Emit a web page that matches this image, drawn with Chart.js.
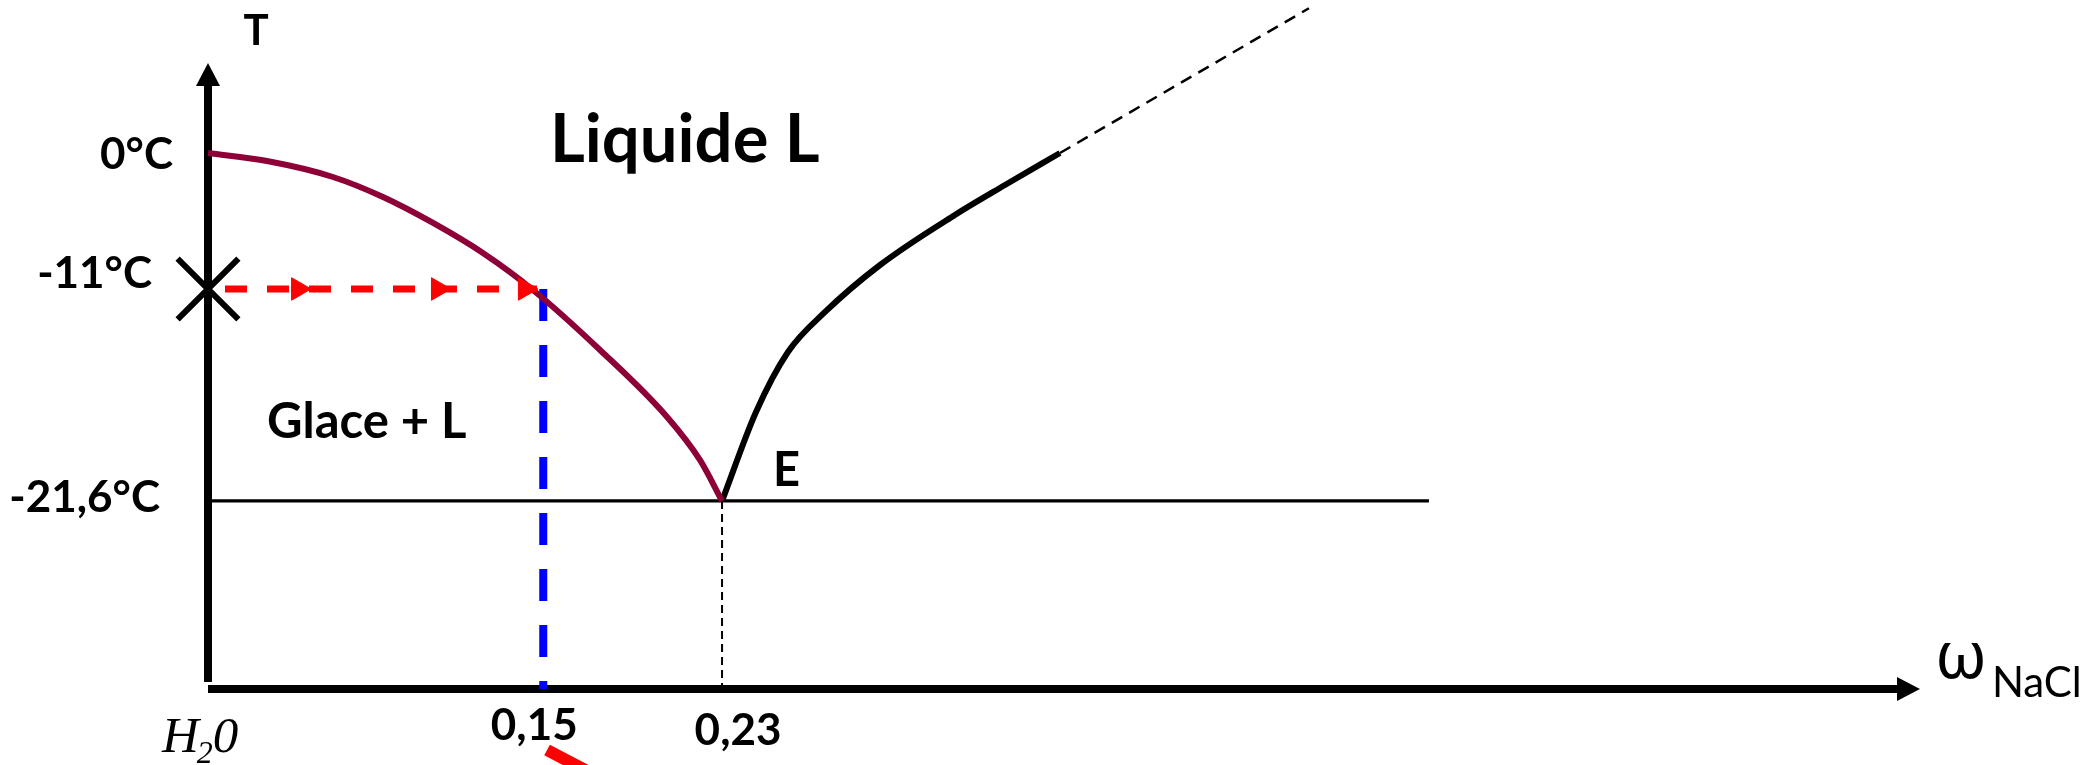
<!DOCTYPE html>
<html>
<head>
<meta charset="utf-8">
<title>Diagramme binaire eau – NaCl</title>
<script src="https://cdn.jsdelivr.net/npm/chart.js@4.4.1/dist/chart.umd.min.js"></script>
<style>
  html, body { margin: 0; padding: 0; background: #ffffff; overflow: hidden; }
  canvas { display: block; }
</style>
</head>
<body>
<canvas id="diagram" width="2097" height="765"></canvas>
<script>
// ---- Data: mass fraction of NaCl (ω) and temperature (°C) ----

// Ice liquidus, from pure water at 0 °C down to the eutectic point
const iceLiquidusW = [0, 0.0264, 0.0559, 0.0783, 0.1007, 0.1230, 0.1454, 0.1754, 0.2054, 0.2201, 0.23];
const iceLiquidusT = [0, -0.65, -1.94, -3.56, -5.66, -8.09, -11.05, -14.05, -17.4, -19.55, -21.6];

// Salt-side liquidus, from the eutectic point up to 0 °C
const saltLiquidusW = [0.23, 0.2452, 0.2595, 0.2761, 0.3007, 0.3342, 0.3566, 0.3812];
const saltLiquidusT = [-21.6, -17.15, -14.15, -12.15, -9.06, -5.01, -2.59, 0];

// Dashed continuation of the salt liquidus above 0 °C
const saltExtensionW = [0.3812, 0.4926];
const saltExtensionT = [0, 11.73];

// Eutectic plateau and its composition
const eutecticT = -21.6;
const eutecticW = 0.23;
const eutecticLineEndW = 0.5463;

// Cooling path of the brine: start temperature and the composition reached
const startT = -11;
const brineW = 0.15;
const coolingPathW = [0.0076, 0.1472];
const coolingArrowW = [0.0403, 0.1029, 0.1418];

// Tail of a red arrow below the composition axis
const pointerW = [0.1517, 0.1799];
const pointerT = [-34.05, -35.7];

// Axis extents and labels
const tempMin = -31;
const tempMax = 12.4;
const tempAxisTipT = 7.3;
const fracAxisTipW = 0.766;
const fracMax = 0.8452;
const tempTicks = [0, -11, -21.6];
const tempTickLabels = ['0°C', '-11°C', '-21,6°C'];
const fracTicks = [0.15, 0.23];
const fracTickLabels = ['0,15', '0,23'];

// The temperature axis is a schematic one: each labelled level has its own spacing
const tempBreaks = [-31, -21.6, -11, 0, 12.4];
const tempBreakSpan = [0, 0.2729, 0.5806, 0.7779, 1];

// ---- Piecewise-linear value axis ----
class BrokenLinearScale extends Chart.LinearScale {
  static id = 'brokenLinear';
  static defaults = {};
  _segment(arr, v) {
    if (v <= arr[0]) return 0;
    if (v >= arr[arr.length - 1]) return arr.length - 2;
    let i = 0;
    while (v > arr[i + 1]) i++;
    return i;
  }
  _toDecimal(v) {
    const k = tempBreaks, d = tempBreakSpan, i = this._segment(k, v);
    return d[i] + (v - k[i]) * (d[i + 1] - d[i]) / (k[i + 1] - k[i]);
  }
  _fromDecimal(f) {
    const k = tempBreaks, d = tempBreakSpan, i = this._segment(d, f);
    return k[i] + (f - d[i]) * (k[i + 1] - k[i]) / (d[i + 1] - d[i]);
  }
  getPixelForValue(value) {
    if (value === null || value === undefined || isNaN(value)) return NaN;
    return this.getPixelForDecimal(this._toDecimal(+value));
  }
  getValueForPixel(pixel) {
    return this._fromDecimal(this.getDecimalForPixel(pixel));
  }
}
Chart.register(BrokenLinearScale);

const zip = (xs, ys) => xs.map((x, i) => ({ x, y: ys[i] }));
const atT = (xs, t) => xs.map(x => ({ x, y: t }));

// ---- Styles ----
const COL_ICE = '#8E0038';
const COL_RED = '#FF0000';
const COL_BLUE = '#0000FF';
const BOLD = '"Lato", "Noto Sans", sans-serif';

const datasets = [
  { // starting point on the temperature axis
    data: [{ x: 0, y: startT }], showLine: false,
    pointStyle: 'crossRot', pointRadius: 43, borderColor: '#000', borderWidth: 6, backgroundColor: 'transparent'
  },
  { // arrowheads along the cooling path
    data: atT(coolingArrowW, startT), showLine: false,
    pointStyle: 'triangle', pointRotation: 90, pointRadius: 13,
    backgroundColor: COL_RED, borderColor: COL_RED, borderWidth: 1
  },
  { // cooling path
    data: atT(coolingPathW, startT), borderColor: COL_RED, borderWidth: 7, borderDash: [22, 20],
    pointRadius: 0
  },
  { // ice liquidus
    data: zip(iceLiquidusW, iceLiquidusT), borderColor: COL_ICE, borderWidth: 6,
    cubicInterpolationMode: 'monotone', pointRadius: 0
  },
  { // salt liquidus
    data: zip(saltLiquidusW, saltLiquidusT), borderColor: '#000', borderWidth: 6,
    cubicInterpolationMode: 'monotone', pointRadius: 0
  },
  { // salt liquidus continued
    data: zip(saltExtensionW, saltExtensionT), borderColor: '#000', borderWidth: 2.5, borderDash: [12, 8],
    pointRadius: 0
  },
  { // brine composition
    data: [{ x: brineW, y: startT }, { x: brineW, y: tempMin }], borderColor: COL_BLUE, borderWidth: 8,
    borderDash: [32, 24], pointRadius: 0
  },
  { // eutectic plateau
    data: [{ x: 0, y: eutecticT }, { x: eutecticLineEndW, y: eutecticT }], borderColor: '#000', borderWidth: 3.3,
    pointRadius: 0
  },
  { // eutectic composition
    data: [{ x: eutecticW, y: eutecticT }, { x: eutecticW, y: tempMin }], borderColor: '#000', borderWidth: 2,
    borderDash: [8, 5], pointRadius: 0
  },
  { // arrow tail under the axis
    data: zip(pointerW, pointerT), borderColor: COL_RED, borderWidth: 12, pointRadius: 0
  }
];
datasets.forEach(d => { d.clip = false; d.fill = false; });

// Text placed next to the axes (pixel offsets from the tick position)
const tempLabelOffsets = [[-35, 16], [-56, -1], [-48, 11]];
const fracLabelOffsets = [[-9, 51], [16, 56]];

// Region and point labels, anchored in data coordinates
const regionLabels = [
  { text: 'Liquide L', x: 0.1530, y: -0.73, size: 67, align: 'left' },
  { text: 'Glace + L', x: 0.0264, y: -18.45, size: 49, align: 'left' },
  { text: 'E', x: 0.2528, y: -20.85, size: 47, align: 'left' },
  { text: 'T', x: 0.0215, y: 8.74, size: 42, align: 'center' }
];

const diagramDecor = {
  id: 'diagramDecor',
  beforeDatasetsDraw(chart) {
    const { ctx, scales: { x: xs, y: ys } } = chart;
    const x0 = xs.getPixelForValue(0);
    const yb = ys.getPixelForValue(tempMin);
    const yTip = ys.getPixelForValue(tempAxisTipT);
    const xTip = xs.getPixelForValue(fracAxisTipW);
    const len = 23, half = 12;
    ctx.save();
    ctx.strokeStyle = '#000';
    ctx.fillStyle = '#000';
    ctx.lineWidth = 8;
    ctx.lineCap = 'butt';
    // temperature axis
    ctx.beginPath();
    ctx.moveTo(x0, yb - 7);
    ctx.lineTo(x0, yTip + len);
    ctx.stroke();
    ctx.beginPath();
    ctx.moveTo(x0, yTip);
    ctx.lineTo(x0 - half, yTip + len);
    ctx.lineTo(x0 + half, yTip + len);
    ctx.closePath();
    ctx.fill();
    // composition axis
    ctx.beginPath();
    ctx.moveTo(x0, yb);
    ctx.lineTo(xTip - len, yb);
    ctx.stroke();
    ctx.beginPath();
    ctx.moveTo(xTip, yb);
    ctx.lineTo(xTip - len, yb - half);
    ctx.lineTo(xTip - len, yb + half);
    ctx.closePath();
    ctx.fill();
    ctx.restore();
  },
  afterDatasetsDraw(chart) {
    const { ctx, scales: { x: xs, y: ys } } = chart;
    const x0 = xs.getPixelForValue(0);
    const yb = ys.getPixelForValue(tempMin);
    ctx.save();
    ctx.fillStyle = '#000';
    ctx.textBaseline = 'alphabetic';

    // temperature tick labels
    ctx.font = `bold 44px ${BOLD}`;
    ctx.textAlign = 'right';
    tempTicks.forEach((t, i) => {
      const [dx, dy] = tempLabelOffsets[i];
      ctx.fillText(tempTickLabels[i], x0 + dx, ys.getPixelForValue(t) + dy);
    });

    // composition tick labels
    ctx.textAlign = 'center';
    fracTicks.forEach((w, i) => {
      const [dx, dy] = fracLabelOffsets[i];
      ctx.fillText(fracTickLabels[i], xs.getPixelForValue(w) + dx, yb + dy);
    });

    // pure-water end of the composition axis: H2O
    ctx.textAlign = 'left';
    ctx.font = 'italic 51px "Liberation Serif", "Times New Roman", serif';
    let hx = x0 - 46;
    ctx.fillText('H', hx, yb + 63);
    hx += ctx.measureText('H').width - 2;
    ctx.font = 'italic 32px "Liberation Serif", "Times New Roman", serif';
    ctx.fillText('2', hx, yb + 74);
    hx += ctx.measureText('2').width;
    ctx.font = 'italic 51px "Liberation Serif", "Times New Roman", serif';
    ctx.fillText('0', hx, yb + 63);

    // region labels
    regionLabels.forEach(l => {
      ctx.font = `bold ${l.size}px ${BOLD}`;
      ctx.textAlign = l.align;
      ctx.fillText(l.text, xs.getPixelForValue(l.x), ys.getPixelForValue(l.y));
    });

    // composition axis title: ω NaCl
    const xt = xs.getPixelForValue(fracAxisTipW) + 15;
    ctx.textAlign = 'left';
    ctx.font = '65px "Noto Sans", "DejaVu Sans", sans-serif';
    ctx.fillText('ω', xt, yb - 11);
    const wW = ctx.measureText('ω').width;
    ctx.font = '42px "Lato", "Noto Sans", sans-serif';
    ctx.fillText('NaCl', xt + wW + 5, yb + 8);
    ctx.restore();
  }
};

new Chart(document.getElementById('diagram'), {
  type: 'line',
  data: { datasets },
  options: {
    responsive: false,
    animation: false,
    devicePixelRatio: 1,
    layout: { autoPadding: false, padding: { left: 208, right: 0, top: 0, bottom: 76 } },
    plugins: { legend: { display: false }, tooltip: { enabled: false } },
    scales: {
      x: { type: 'linear', min: 0, max: fracMax, display: false },
      y: { type: 'brokenLinear', min: tempMin, max: tempMax, display: false }
    }
  },
  plugins: [diagramDecor]
});
</script>
</body>
</html>
